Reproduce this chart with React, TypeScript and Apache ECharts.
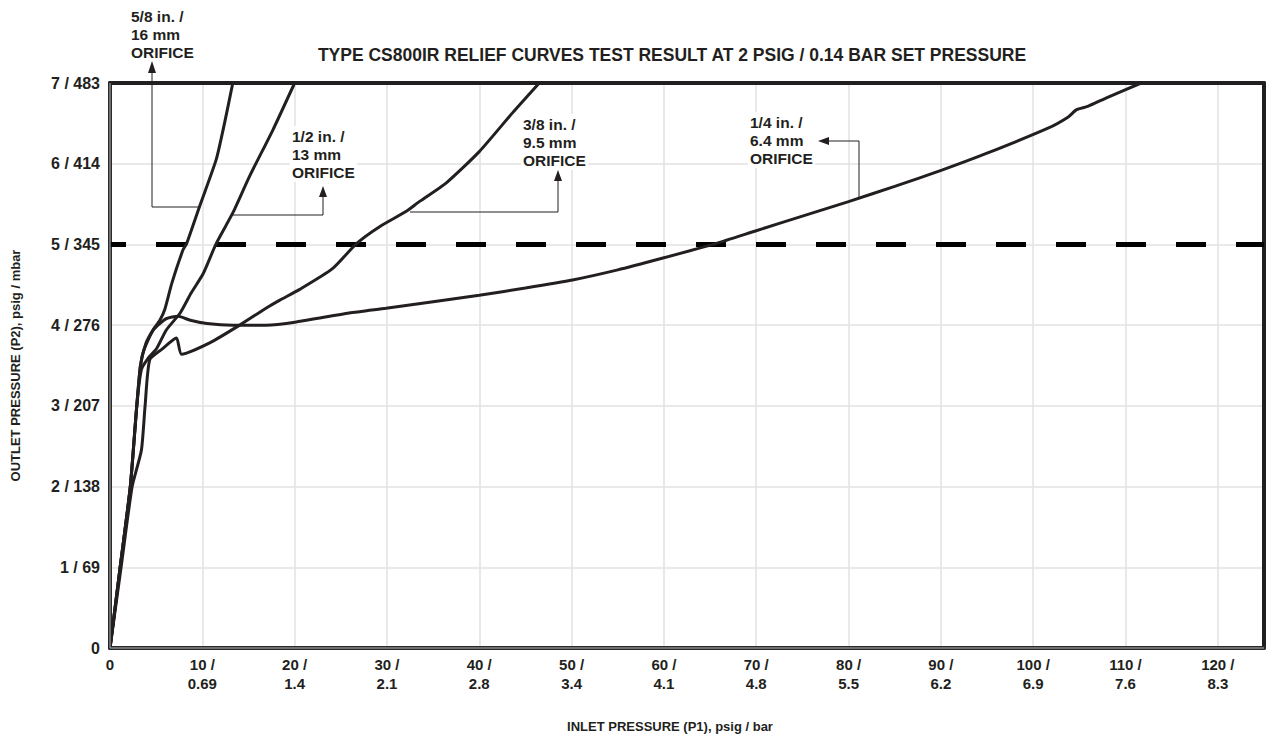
import React, { useEffect, useRef } from "react";
import * as echarts from "echarts";

// ---------- DATA ----------
const xTickValues = [0, 10, 20, 30, 40, 50, 60, 70, 80, 90, 100, 110, 120];
const xTickLabels = ["0", "10 /\n0.69", "20 /\n1.4", "30 /\n2.1", "40 /\n2.8", "50 /\n3.4", "60 /\n4.1", "70 /\n4.8", "80 /\n5.5", "90 /\n6.2", "100 /\n6.9", "110 /\n7.6", "120 /\n8.3"];
const yTickValues = [0, 1, 2, 3, 4, 5, 6, 7];
const yTickLabels = ["0", "1 / 69", "2 / 138", "3 / 207", "4 / 276", "5 / 345", "6 / 414", "7 / 483"];

const orifice58 = [
  [0, 0], [1.1, 1], [2.2, 2], [2.9, 3], [3.3, 3.5], [3.9, 3.78], [4.7, 3.95], [5.4, 4.06],
  [5.95, 4.2], [6.7, 4.52], [7.9, 4.93], [8.3, 5.01], [9.7, 5.47], [11.5, 6.05], [12.4, 6.5], [13.3, 7.0],
];
const orifice12 = [
  [0, 0], [1.1, 1], [2.2, 2], [2.9, 3], [3.4, 3.45], [4.2, 3.6], [5.05, 3.71], [6.1, 3.94],
  [7.6, 4.15], [8.8, 4.4], [10.1, 4.64], [11.5, 5.01], [13.3, 5.39], [15.1, 5.84], [17.65, 6.42], [20.0, 7.0],
];
const orifice38 = [
  [0, 0], [1.2, 1], [2.4, 2], [3.4, 2.45], [3.8, 3.0], [4.3, 3.57], [5.6, 3.7], [7.2, 3.84],
  [7.75, 3.64], [10.8, 3.78], [14.05, 4.0], [16.9, 4.21], [18.4, 4.31], [20.5, 4.44], [24.1, 4.7],
  [26.7, 5.01], [29.2, 5.22], [32.1, 5.41], [33.5, 5.53], [36.4, 5.76], [40, 6.15], [43.6, 6.63], [46.5, 7.0],
];
const orifice14 = [
  [0, 0], [1.1, 1], [2.2, 2], [2.9, 3], [3.3, 3.5], [3.7, 3.7], [4.7, 3.94], [6.1, 4.08], [7.4, 4.11],
  [8.7, 4.06], [10.5, 4.02], [13.3, 4.0], [16.9, 4.0], [20.2, 4.04], [25.9, 4.15], [29.9, 4.21],
  [35, 4.29], [40, 4.37], [45, 4.46], [50.1, 4.56], [55, 4.685], [60, 4.835], [65.6, 5.01], [70, 5.17],
  [75, 5.35], [80, 5.53], [85, 5.72], [90.1, 5.92], [95, 6.13], [101.6, 6.44], [103.8, 6.58],
  [104.7, 6.67], [105.9, 6.71], [108, 6.82], [111.7, 7.0],
];
const setPressureLine = [[0, 5], [125, 5]];

const titleText = "TYPE CS800IR RELIEF CURVES TEST RESULT AT 2 PSIG / 0.14 BAR SET PRESSURE";
const xAxisName = "INLET PRESSURE (P1), psig / bar";
const yAxisName = "OUTLET PRESSURE (P2), psig / mbar";
const labels58 = "5/8 in. /\n16 mm\nORIFICE";
const labels12 = "1/2 in. /\n13 mm\nORIFICE";
const labels38 = "3/8 in. /\n9.5 mm\nORIFICE";
const labels14 = "1/4 in. /\n6.4 mm\nORIFICE";

// ---------- STYLE ----------
const INK = "#231f20";
const FONT = "'Liberation Sans', Arial, sans-serif";
const GRID = { left: 110, top: 83, width: 1154, height: 565 };

function curve(name: string, data: number[][]) {
  return {
    name,
    type: "line",
    data,
    symbol: "none",
    smooth: 0.2,
    lineStyle: { color: INK, width: 3 },
    z: 5,
    silent: true,
  };
}

function annotText(text: string, x: number, y: number) {
  return {
    type: "text",
    x,
    y,
    z: 20,
    style: {
      text,
      font: `bold 15.5px ${FONT}`,
      fill: INK,
      lineHeight: 18,
      textVerticalAlign: "top",
      backgroundColor: "#fff",
      padding: [1, 2, 1, 2],
    },
  };
}

function seg(x1: number, y1: number, x2: number, y2: number) {
  return {
    type: "line",
    z: 20,
    shape: { x1, y1, x2, y2 },
    style: { stroke: INK, lineWidth: 1 },
  };
}

function arrowHead(points: number[][]) {
  return { type: "polygon", z: 20, shape: { points }, style: { fill: INK } };
}

export default function App() {
  const ref = useRef<HTMLDivElement>(null);
  useEffect(() => {
    const chart = echarts.init(ref.current!, null, { renderer: "svg" });
    const bottom = GRID.top + GRID.height;
    const right = GRID.left + GRID.width;
    chart.setOption({
      animation: false,
      backgroundColor: "#fff",
      grid: { ...GRID, containLabel: false, outerBoundsMode: "none" },
      xAxis: [
        {
          type: "value",
          min: 0,
          max: 125,
          interval: 10,
          name: xAxisName,
          nameLocation: "middle",
          nameGap: 72,
          nameTextStyle: { fontFamily: FONT, fontWeight: "bold", fontSize: 13, color: INK, padding: [0, 34, 0, 0] },
          axisLine: { show: true, onZero: false, lineStyle: { color: "#2a2a2a", width: 4 } },
          axisTick: { show: false },
          splitLine: { show: true, lineStyle: { color: "#e2e2e2", width: 1.5 } },
          axisLabel: {
            formatter: (v: number) => {
              const i = xTickValues.indexOf(v);
              return i >= 0 ? xTickLabels[i] : "";
            },
            fontFamily: FONT,
            fontWeight: "bold",
            fontSize: 15,
            lineHeight: 19,
            color: INK,
            margin: 7,
          },
        },
        {
          type: "value",
          position: "top",
          min: 0,
          max: 125,
          axisLine: { show: true, onZero: false, lineStyle: { color: INK, width: 4 } },
          axisTick: { show: false },
          axisLabel: { show: false },
          splitLine: { show: false },
        },
      ],
      yAxis: [
        {
          type: "value",
          min: 0,
          max: 7,
          interval: 1,
          name: yAxisName,
          nameLocation: "middle",
          nameGap: 88,
          nameTextStyle: { fontFamily: FONT, fontWeight: "bold", fontSize: 13, color: INK },
          axisLine: { show: true, onZero: false, lineStyle: { color: "#2a2a2a", width: 4 } },
          axisTick: { show: false },
          splitLine: { show: true, lineStyle: { color: "#e2e2e2", width: 1.5 } },
          axisLabel: {
            formatter: (v: number) => {
              const i = yTickValues.indexOf(v);
              return i >= 0 ? yTickLabels[i] : "";
            },
            fontFamily: FONT,
            fontWeight: "bold",
            fontSize: 16,
            color: INK,
            margin: 10,
          },
        },
        {
          type: "value",
          position: "right",
          min: 0,
          max: 7,
          axisLine: { show: true, onZero: false, lineStyle: { color: INK, width: 4 } },
          axisTick: { show: false },
          axisLabel: { show: false },
          splitLine: { show: false },
        },
      ],
      series: [
        {
          name: "set pressure",
          type: "line",
          data: setPressureLine,
          symbol: "none",
          silent: true,
          z: 4,
          lineStyle: { color: "#000", width: 5, type: [30, 30], dashOffset: 14 },
        },
        curve("1/4 in.", orifice14),
        curve("3/8 in.", orifice38),
        curve("1/2 in.", orifice12),
        curve("5/8 in.", orifice58),
      ],
      graphic: [
        // inner light line of double axis lines
        { type: "line", z: 30, silent: true, shape: { x1: GRID.left, y1: GRID.top, x2: GRID.left, y2: bottom }, style: { stroke: "#b5b5b5", lineWidth: 1 } },
        { type: "line", z: 30, silent: true, shape: { x1: GRID.left, y1: bottom, x2: right, y2: bottom }, style: { stroke: "#b5b5b5", lineWidth: 1 } },
        {
          type: "text",
          x: 672,
          y: 55,
          style: {
            text: titleText,
            font: `bold 17.5px ${FONT}`,
            fill: INK,
            textAlign: "center",
            textVerticalAlign: "middle",
          },
        },
        // 5/8
        annotText(labels58, 129, 6),
        seg(152, 207, 200, 207),
        seg(152, 207, 152, 70),
        arrowHead([[152, 61], [148, 73], [156, 73]]),
        // 1/2
        annotText(labels12, 290, 126),
        seg(233, 215, 323, 215),
        seg(323, 215, 323, 194),
        arrowHead([[323, 186], [319, 197], [327, 197]]),
        // 3/8
        annotText(labels38, 521, 114),
        seg(410, 212, 558, 212),
        seg(558, 212, 558, 178),
        arrowHead([[558, 170], [554, 181], [562, 181]]),
        // 1/4
        annotText(labels14, 748, 112),
        seg(859, 198, 859, 141),
        seg(859, 141, 826, 141),
        arrowHead([[818, 141], [829, 137], [829, 145]]),
      ],
    });
    return () => chart.dispose();
  }, []);
  return (
    <div
      ref={ref}
      style={{ position: "fixed", left: 0, top: 0, width: 1268, height: 738, background: "#fff" }}
    />
  );
}
